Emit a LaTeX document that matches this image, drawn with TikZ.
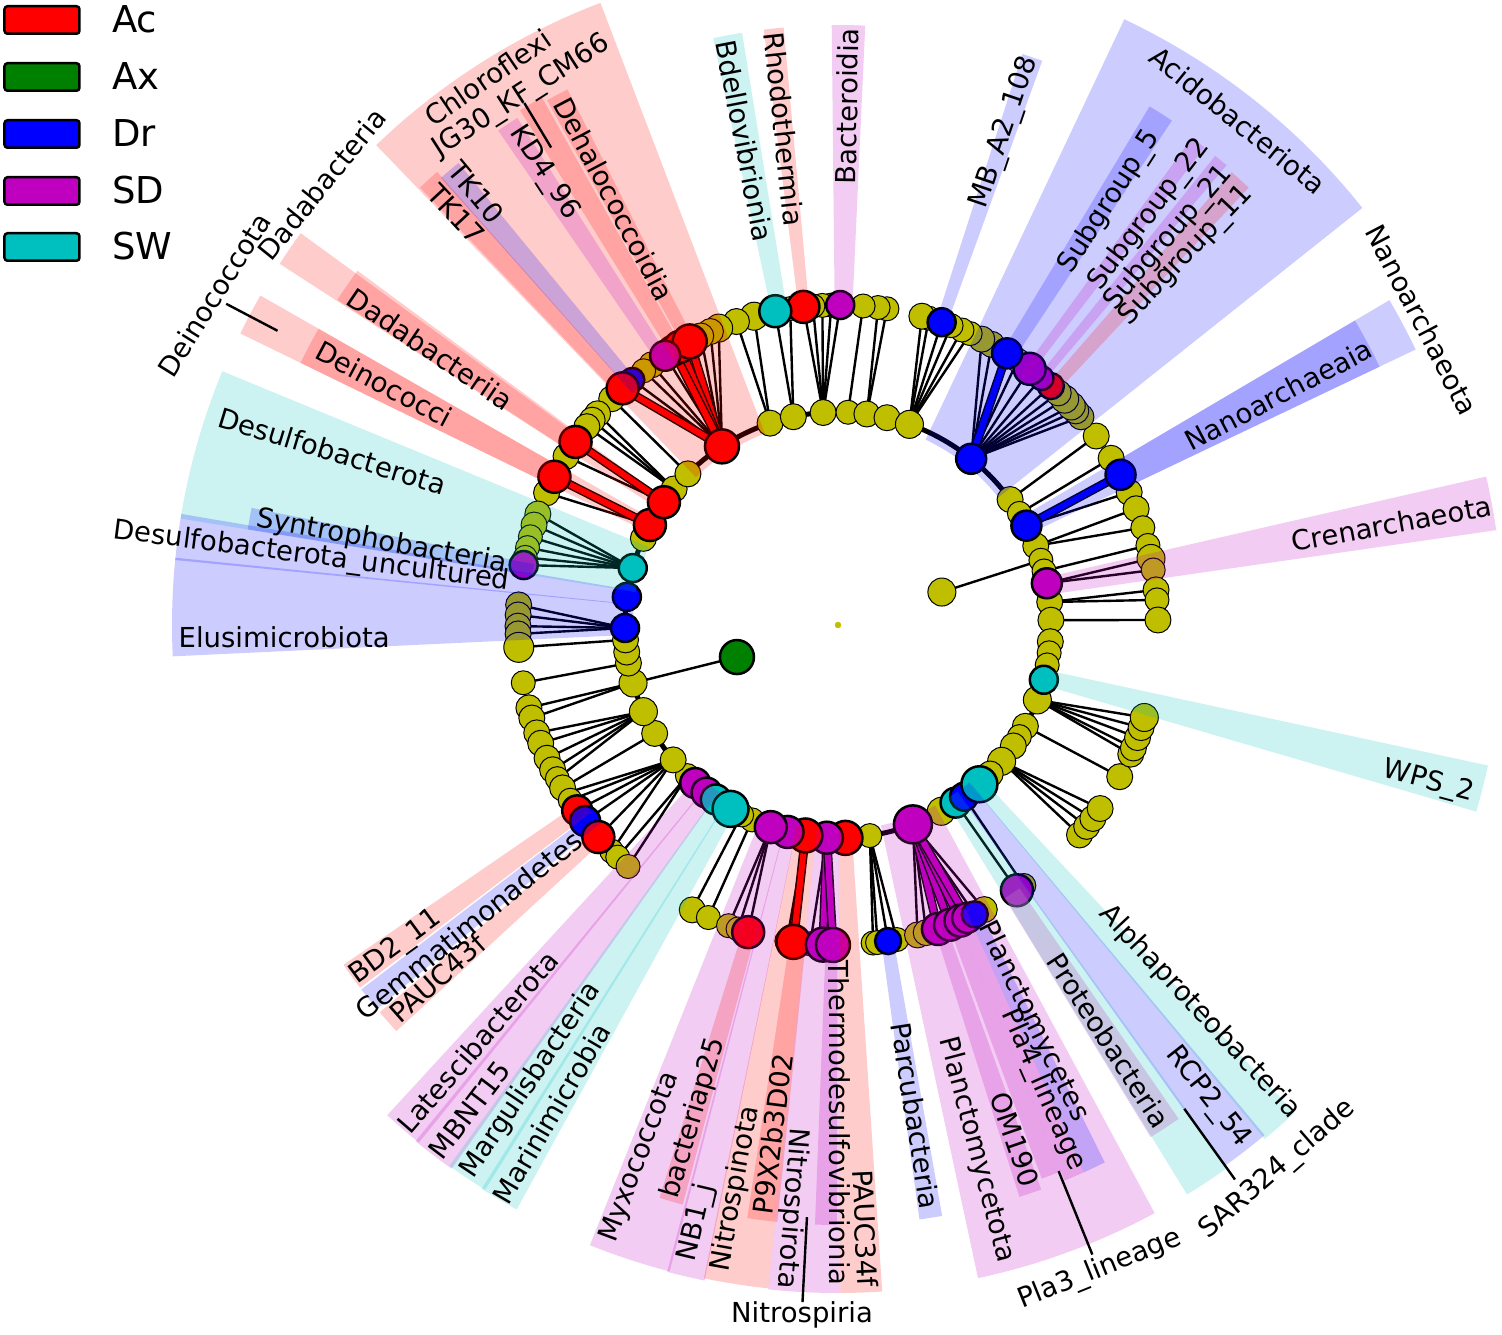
\documentclass[tikz,border=0pt]{standalone}
\usepackage{fontspec}
\setmainfont{DejaVu Sans}
\definecolor{cR}{RGB}{255,0,0}
\definecolor{cG}{RGB}{0,128,0}
\definecolor{cB}{RGB}{0,0,255}
\definecolor{cM}{RGB}{191,0,191}
\definecolor{cC}{RGB}{0,191,191}
\definecolor{cY}{RGB}{191,191,0}
\definecolor{cP}{RGB}{190,120,200}
\newcommand{\wdg}[5]{\fill[#5, fill opacity=0.2] (#1:#3pt) arc[start angle=#1, end angle=#2, radius=#3pt] -- (#2:#4pt) arc[start angle=#2, end angle=#1, radius=#4pt] -- cycle;}
\begin{document}
\begin{tikzpicture}[x=1pt,y=1pt,
 edge/.style={line width=2.4pt, black},
 lab/.style={font=\fontsize{27.5}{30}\selectfont, inner sep=0pt},
 leader/.style={line width=2.4pt, black},
 legbox/.style={draw=black, line width=2.5pt, rounded corners=3pt, minimum width=75pt, minimum height=27.5pt, inner sep=0pt},
 legtext/.style={font=\fontsize{37}{40}\selectfont, inner sep=0pt, anchor=base west}]
\useasboundingbox (-838,-709) rectangle (664,625);

% backbone
\draw[line width=5pt] (0,0) circle[radius=213pt];

% thin edges
\foreach \a/\b in {36.1/36.2, 31.6/31.4, 27.8/24.5, 21.8/21.3, 21.8/17.7, 14.7/14.4, 11.3/12.0, 11.3/9.9, 6.2/6.3, 6.2/4.5, 1.3/0.9,
 51.3/40.6, 51.3/42, 51.3/43.2, 51.3/44.9, 51.3/46.5, 51.3/48.3, 51.3/50.5, 51.3/53.2, 51.3/55.8, 51.3/61.3, 51.3/63.3,
 70.4/65.6, 70.4/67.2, 70.4/69.3, 70.4/71.1, 70.4/73.5, 70.4/74.8, 82.2/81.2, 82.2/82.8, 87.3/85.5,
 94/89.6, 94/91.2, 94/92.8, 94/94.5, 94/96.2, 102.1/98.6, 102.1/101.3, 108.6/105.2, 108.6/108.5,
 123/111.9, 123/113.5, 123/115.4, 123/122.7, 123/125.6, 123/127.4, 123/130, 134.8/135,
 140.3/138.7, 140.3/140.2, 140.3/141.7, 144.8/148.2, 152/155.6,
 164.5/159.7, 164.5/161.8, 164.5/164, 164.5/166, 164.5/167.8, 164.5/169.2,
 180.8/176.4, 180.8/178.2, 180.8/180.2, 180.8/181.6, 184/184, 190.3/190.4, 195.8/195, 195.8/196.9,
 204/199.7, 204/201.7, 204/204.6, 204/206.9, 204/208.7, 210.6/210.6,
 219.3/211.7, 219.3/213.2, 219.3/215.4, 219.3/217.8, 219.3/221.5, 219.3/225, 225/226.5, 225/229,
 243.1/242.9, 246.2/246.1, 251.6/250, 251.6/251.8, 251.6/253.7, 261.2/260.8, 267/265,
 278.6/276.3, 278.6/277.1, 278.6/279, 278.6/280.6, 290.6/284.4, 290.6/286, 290.6/295.3, 290.6/297.2,
 303.5/304, 306.3/305.5, 320.2/319, 320.2/321, 320.2/322.8, 320.2/325, 331.6/331.7,
 339.4/336.2, 339.4/337.4, 339.4/339.4, 339.4/341.3, 339.4/343.2}
 {\draw[edge] (\a:213pt) -- (\b:320pt);}

% thick coloured edges
\foreach \a/\b/\c in {51.3/58.1/cB, 27.8/28/cB, 123/117.6/cR, 123/119.6/cR, 123/121/cR, 123/132.3/cR,
 144.8/145.1/cR, 152/152.4/cR, 261.2/262/cR, 267/267.3/cM, 267/269.1/cM,
 290.6/288.2/cM, 290.6/290.5/cM, 290.6/292.5/cM, 290.6/293.8/cM}
 {\draw[line width=9pt, black] (\a:213pt) -- (\b:320pt);
  \draw[line width=6pt, \c] (\a:213pt) -- (\b:320pt);}

% kingdom nodes
\draw[edge] (197.6:106pt) -- (195.8:213pt);
\draw[edge] (17.6:109pt) -- (17.7:213pt);
\filldraw[fill=cG, draw=black, line width=2.5pt] (197.6:106pt) circle[radius=17pt];
\filldraw[fill=cY, draw=black, line width=1pt] (17.6:109pt) circle[radius=14pt];
\filldraw[fill=cY, draw=cY] (0,0) circle[radius=3pt];

% yellow inner nodes
\foreach \a/\s in {36.1/13, 31.6/12, 21.8/13, 17.7/12, 14.7/12, 6.2/13, 1.3/13, -4.5/13, -7.5/12, -10.8/12, -20.6/14, -28.4/13, -31.6/12, -34.6/13, -39.8/14, -44.4/13, -61/14, -81.4/12, 246.2/12, 243.1/12, 225/12, 219.3/13, 210.6/13, 204/14, 195.8/14, 190.3/13, 187.3/13, 184/13, 156/13, 140.3/13, 134.8/13, 108.6/13, 102.1/13, 94/13, 87.3/12, 82.2/13, 76.7/13, 70.4/14}
 {\filldraw[fill=cY, draw=black, line width=1pt] (\a:213pt) circle[radius=\s pt];}
% coloured inner nodes
\foreach \a/\c/\s in {27.8/cB/15, 11.3/cM/15, -14.9/cC/14, -56.5/cC/15, -53.7/cB/14, -48.4/cC/18, -69.4/cM/19, -88/cR/17, 267/cM/16, 261.2/cR/17, 256.3/cM/16, 251.6/cM/16, 227.9/cM/15, 231.9/cM/15, 235/cC/15, 239.7/cC/18, 180.8/cB/14, 172.4/cB/14, 164.5/cC/14, 152/cR/16, 144.8/cR/16, 123/cR/17, 51.3/cB/15}
 {\filldraw[fill=\c, draw=black, line width=2.5pt] (\a:213pt) circle[radius=\s pt];}

% yellow leaves
\foreach \a/\s in {36.2/13, 31.4/13, 24.5/13, 21.3/13, 17.7/12, 14.4/12, 12.0/14, 9.9/12, 6.3/13, 4.5/12, 0.9/13,
 40.6/13, 42/13, 43.2/14, 44.9/14, 46.5/13, 55.8/12, 61.3/13, 63.3/13,
 65.6/12, 67.2/12, 69.3/12, 73.5/12, 74.8/13,
 81.2/12, 82.8/12, 85.5/12, 91.2/12, 92.8/12, 94.5/12, 98.6/12, 105.2/14, 108.5/13,
 111.9/14, 113.5/13, 115.4/13, 125.6/13, 127.4/12, 135/13,
 138.7/13, 140.2/13, 141.7/13, 148.2/13, 155.6/13,
 159.7/13, 161.8/13, 164/12, 166/12, 167.8/12,
 176.4/13, 178.2/13, 180.2/13, 181.6/13, 184/15, 190.4/12, 195/13, 196.9/13, 199.7/13, 201.7/13, 204.6/13, 206.9/13, 208.7/12, 210.6/13, 213.2/12, 225/12, 226.5/12, 229/12,
 242.9/13, 246.1/12, 250/12, 251.8/12, 260.8/12, 265/12,
 276.3/12, 277.1/12, 280.6/12, 284.4/13, 286/13, 297.2/13,
 305.5/12, 319/13, 321/13, 322.8/13, 325/13, 331.7/13, 336.2/13, 337.4/13, 339.4/13, 341.3/13, 343.2/14}
 {\filldraw[fill=cY, draw=black, line width=1pt] (\a:320pt) circle[radius=\s pt];}
% coloured leaves
\foreach \a/\c/\s in {28/cB/15, 48.3/cR/13, 50.5/cM/12, 53.2/cM/16, 58.1/cB/15, 71.1/cB/14, 89.6/cM/14, 96.2/cR/16, 101.3/cC/16,
 121/cR/15, 119.6/cR/16, 117.6/cR/17, 122.7/cM/15, 130/cB/12, 132.3/cR/16, 145.1/cR/16, 152.4/cR/16, 169.2/cM/14,
 215.4/cR/15, 217.8/cB/15, 221.5/cR/16, 253.7/cR/16, 262/cR/17, 267.3/cM/17, 269.1/cM/17, 279/cB/13,
 288.2/cM/16, 290.5/cM/16, 292.5/cM/16, 293.8/cM/15, 295.3/cB/13, 304/cM/16}
 {\filldraw[fill=\c, draw=black, line width=2.5pt] (\a:320pt) circle[radius=\s pt];}

% phylum wedges
\wdg{110.9}{133.9}{205}{666}{cR}
\wdg{143.9}{147.1}{205}{665}{cR}
\wdg{150.3}{154}{205}{665}{cR}
\wdg{157.6}{170.8}{205}{666}{cC}
\wdg{170.4}{174.4}{205}{666}{cB}
\wdg{174.2}{182.7}{205}{666}{cB}
\wdg{227.4}{231}{205}{666}{cM}
\wdg{230.7}{234.6}{205}{667}{cM}
\wdg{234.3}{238}{205}{666}{cC}
\wdg{237.7}{241.2}{205}{667}{cC}
\wdg{248.2}{255.4}{205}{668}{cM}
\wdg{255.2}{258.5}{205}{669}{cM}
\wdg{258.4}{264}{205}{667}{cR}
\wdg{264}{270.2}{205}{668}{cM}
\wdg{270.2}{273.8}{205}{668}{cR}
\wdg{282.1}{298.3}{205}{668}{cM}
\wdg{301.5}{305.7}{205}{668}{cC}
\wdg{305.5}{309.9}{205}{665}{cB}
\wdg{309.7}{313.1}{205}{668}{cC}
\wdg{343.7}{347.8}{205}{665}{cC}
\wdg{8.2}{12.9}{205}{665}{cM}
\wdg{25.5}{30.5}{205}{640}{cB}
\wdg{38.5}{64.7}{205}{670}{cB}
% class strips
\wdg{131.5}{133.7}{310}{605}{cR}
\wdg{129.4}{131.6}{310}{598}{cB}
\wdg{122.3}{124.5}{310}{600}{cM}
\wdg{119.3}{121.7}{310}{605}{cR}
\wdg{116.8}{119}{310}{600}{cR}
\wdg{143.6}{147}{310}{597}{cR}
\wdg{150.3}{154}{310}{598}{cR}
\wdg{168.7}{170.8}{310}{598}{cB}
\wdg{99.2}{102}{310}{600}{cC}
\wdg{95.2}{97.1}{310}{600}{cR}
\wdg{87.4}{90.6}{310}{600}{cM}
\wdg{70.1}{72.1}{310}{600}{cB}
\wdg{56.5}{59}{310}{605}{cB}
\wdg{52.5}{54}{310}{602}{cM}
\wdg{49.8}{51.2}{310}{602}{cM}
\wdg{46.8}{49}{310}{600}{cR}
\wdg{25.5}{30.5}{310}{600}{cB}
\wdg{214.5}{217.2}{310}{600}{cR}
\wdg{217.4}{219.8}{310}{600}{cB}
\wdg{220.2}{222.6}{310}{600}{cR}
\wdg{252.7}{255}{310}{600}{cR}
\wdg{261.3}{264.2}{310}{600}{cR}
\wdg{267.8}{269.9}{310}{600}{cM}
\wdg{277.8}{280}{310}{600}{cB}
\wdg{287.6}{289.8}{310}{600}{cM}
\wdg{290.2}{292.2}{310}{590}{cM}
\wdg{292.2}{294.2}{310}{600}{cM}
\wdg{294.2}{296.4}{310}{600}{cB}
\fill[cP, fill opacity=0.35] (301.4:320pt) arc[start angle=301.4, end angle=304.6, radius=320pt] -- (304.6:600pt) arc[start angle=304.6, end angle=301.4, radius=600pt] -- cycle;

% leader lines
\draw[leader] (152.3:633pt) -- (152.3:691pt);
\draw[leader] (121:557pt) -- (121:609pt);
\draw[leader] (267:593pt) -- (267:678pt);
\draw[leader] (292:589pt) -- (292:679pt);
\draw[leader] (305.6:595pt) -- (305.6:682pt);

% labels
\node[lab,rotate=-50.1] (l1) at (129.9:564pt) {TK10};
\node[lab,rotate=-47.1] (l2) at (132.9:561pt) {TK17};
\node[lab,rotate=-57] (l3) at (123:539pt) {KD4\_96};
\node[lab,rotate=-62.3] (l4) at (117.7:481pt) {Dehalococcoidia};
\node[lab,rotate=-34.1] (l5) at (145.9:492pt) {Dadabacteriia};
\node[lab,rotate=-28] (l6) at (152:514pt) {Deinococci};
\node[lab,rotate=-17] (l7) at (161:535pt) {Desulfobacterota};
\node[lab,rotate=-10.3] (l8) at (169.7:464pt) {Syntrophobacteria};
\node[lab,rotate=-7.4] (l9) at (172.6:531pt) {Desulfobacterota\_uncultured};
\node[lab,rotate=0] (l10) at (181.3:554pt) {Elusimicrobiota};
\node[lab,rotate=-79.1] (l11) at (100.9:493pt) {Bdellovibrionia};
\node[lab,rotate=-83.8] (l12) at (96.2:499pt) {Rhodothermia};
\node[lab,rotate=89] (l13) at (89:519pt) {Bacteroidia};
\node[lab,rotate=71.3] (l14) at (71.3:520pt) {MB\_A2\_108};
\node[lab,rotate=57.3] (l15) at (57.3:503pt) {Subgroup\_5};
\node[lab,rotate=52.8] (l16) at (52.8:515pt) {Subgroup\_22};
\node[lab,rotate=49.5] (l17) at (49.5:509pt) {Subgroup\_21};
\node[lab,rotate=46.7] (l18) at (46.7:508pt) {Subgroup\_11};
\node[lab,rotate=27.6] (l19) at (27.6:497pt) {Nanoarchaeaia};
\node[lab,rotate=10.4] (l20) at (10.4:563pt) {Crenarchaeota};
\node[lab,rotate=-14.9] (l21) at (345.1:611pt) {WPS\_2};
\node[lab,rotate=36.1] (l22) at (216.1:547pt) {BD2\_11};
\node[lab,rotate=39.1] (l23) at (219.1:476pt) {Gemmatimonadetes};
\node[lab,rotate=41.4] (l24) at (221.4:534pt) {PAUC43f};
\node[lab,rotate=49.2] (l25) at (229.2:551pt) {Latescibacterota};
\node[lab,rotate=52.8] (l26) at (232.8:609pt) {MBNT15};
\node[lab,rotate=56] (l27) at (236:549pt) {Margulisbacteria};
\node[lab,rotate=59.6] (l28) at (239.6:566pt) {Marinimicrobia};
\node[lab,rotate=69.6] (l29) at (249.6:568pt) {Myxococcota};
\node[lab,rotate=73.7] (l30) at (253.7:514pt) {bacteriap25};
\node[lab,rotate=76.7] (l31) at (256.7:614pt) {NB1\_j};
\node[lab,rotate=79.7] (l32) at (259.7:573pt) {Nitrospinota};
\node[lab,rotate=82.7] (l33) at (262.7:513pt) {P9X2b3D02};
\node[lab,rotate=-94.5] (l34) at (265.5:585pt) {Nitrospirota};
\node[lab,rotate=-89.8] (l35) at (270.2:498pt) {Thermodesulfovibrionia};
\node[lab,rotate=-87.4] (l36) at (272.6:604pt) {PAUC34f};
\node[lab,rotate=-81] (l37) at (279:497pt) {Parcubacteria};
\node[lab,rotate=-75.2] (l38) at (284.8:543pt) {Planctomycetota};
\node[lab,rotate=-71] (l39) at (289:544pt) {OM190};
\node[lab,rotate=-66.2] (l40) at (293.8:508pt) {Pla4\_lineage};
\node[lab,rotate=-63.8] (l41) at (296.2:442pt) {Planctomycetes};
\node[lab,rotate=-56.9] (l42) at (303.1:496pt) {Proteobacteria};
\node[lab,rotate=-51.9] (l43) at (308.1:600pt) {RCP2\_54};
\node[lab,rotate=-46.9] (l44) at (313.1:530pt) {Alphaproteobacteria};
\node[lab,rotate=34.4] (l45) at (122.6:650pt) {Chloroflexi};
\node[lab,rotate=32.6] (l46) at (120.9:616pt) {JG30\_KF\_CM66};
\node[lab,rotate=51] (l47) at (139.5:679pt) {Dadabacteria};
\node[lab,rotate=58] (l48) at (152.1:706pt) {Deinococcota};
\node[lab,rotate=-39] (l49) at (51.6:644pt) {Acidobacteriota};
\node[lab,rotate=-62.4] (l50) at (27.6:659pt) {Nanoarchaeota};
\node[lab,rotate=41] (l51) at (308.9:700pt) {SAR324\_clade};
\node[lab,rotate=22] (l52) at (292.1:696pt) {Pla3\_lineage};
\node[lab] (l53) at (-36,-690) {Nitrospiria};

% legend
\node[legbox, fill=cR] (kAc) at (-796,605) {};
\node[legbox, fill=cG] (kAx) at (-796,548) {};
\node[legbox, fill=cB] (kDr) at (-796,491) {};
\node[legbox, fill=cM] (kSD) at (-796,434) {};
\node[legbox, fill=cC] (kSW) at (-796,378) {};
\node[legtext] (tAc) at (-726,592) {Ac};
\node[legtext] (tAx) at (-726,535) {Ax};
\node[legtext] (tDr) at (-726,478) {Dr};
\node[legtext] (tSD) at (-726,421) {SD};
\node[legtext] (tSW) at (-726,365) {SW};
\end{tikzpicture}
\end{document}
